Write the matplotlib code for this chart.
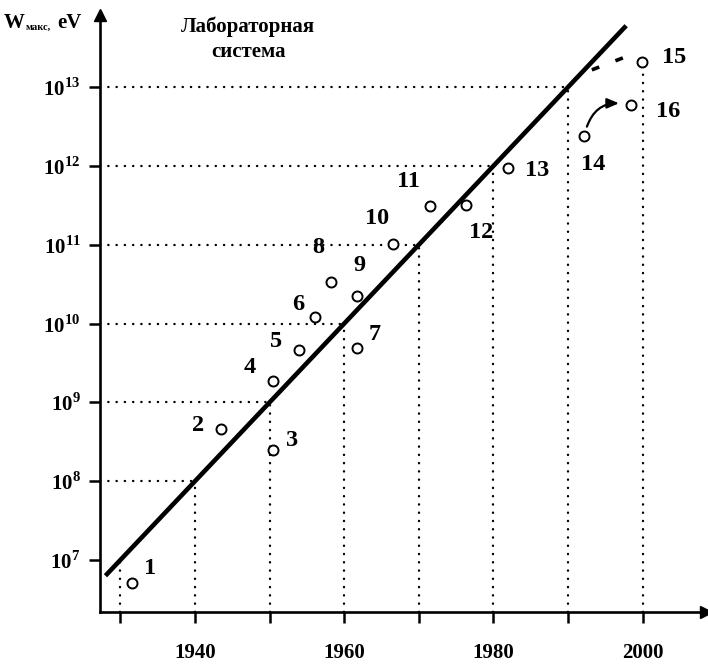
import matplotlib
matplotlib.use("Agg")
import matplotlib.pyplot as plt
from matplotlib.ticker import NullLocator
import numpy as np

plt.rcParams["font.family"] = ["Liberation Serif", "DejaVu Serif"]
plt.rcParams["font.weight"] = "bold"
plt.rcParams["mathtext.fontset"] = "custom"
plt.rcParams["mathtext.rm"] = "Liberation Serif:bold"
plt.rcParams["mathtext.bf"] = "Liberation Serif:bold"

# accelerators 1..16: year and log10 of max energy (eV)
point_ids = [str(i) for i in range(1, 17)]
point_years = [1931.5, 1943.5, 1950.5, 1950.5, 1954.0, 1956.1, 1961.7, 1958.2,
               1961.7, 1966.6, 1971.5, 1976.3, 1981.9, 1992.2, 1999.9, 1998.5]
point_exp = [6.71, 8.66, 8.40, 9.27, 9.67, 10.08, 9.69, 10.53,
             10.35, 11.01, 11.49, 11.50, 11.97, 12.38, 13.32, 12.78]

# Livingston trend line: one decade per ten years
line_years = [1928.0, 1997.8]
line_exp = [6.80, 13.78]

# guide corners on the trend line
guide_years = [1930, 1940, 1950, 1960, 1970, 1980, 1990]
guide_exp = [7, 8, 9, 10, 11, 12, 13]

# dashed extrapolation towards point 15
dash_years = [1993.2, 1997.6]
dash_exp = [13.22, 13.38]

x_ticks = [1930, 1940, 1950, 1960, 1970, 1980, 1990, 2000]
x_tick_labels = ["", "1940", "", "1960", "", "1980", "", "2000"]
y_tick_exp = [7, 8, 9, 10, 11, 12, 13]

# label offsets in pixels (right, up) from each circle
label_dx = [19, -23, 19, -24, -23, -17, 18, -12, 3, -16, -22, 15, 30, 9, 32, 37]
label_dy = [14, 4, 9, 14, 8, 13, 14, 34, 31, 26, 25, -27, -2, -28, 4, -7]

W, H = 708, 667
fig = plt.figure(figsize=(W / 100, H / 100), dpi=100)

x0, x1 = 1927.27, 2008.5
y0, y1 = 6.34, 13.92
px_year, px_dec = 7.46, 78.8
left_px, base_px = 100, 612
ax = fig.add_axes([left_px / W, (H - base_px) / H,
                   (x1 - x0) * px_year / W, (y1 - y0) * px_dec / H])
ax.set_xlim(x0, x1)
ax.set_yscale("log")
ax.set_ylim(10 ** y0, 10 ** y1)

for s in ["top", "right"]:
    ax.spines[s].set_visible(False)
for s in ["left", "bottom"]:
    ax.spines[s].set_linewidth(1.9)
ax.plot(1, 0, ">", color="black", ms=9, transform=ax.transAxes, clip_on=False)
ax.plot(0, 1, "^", color="black", ms=9, transform=ax.transAxes, clip_on=False)

ax.set_xticks(x_ticks)
ax.set_xticklabels(x_tick_labels)
ax.set_yticks([10.0 ** e for e in y_tick_exp])
ax.set_yticklabels([r"$10^{%d}$" % e for e in y_tick_exp])
ax.yaxis.set_minor_locator(NullLocator())
ax.tick_params(axis="both", direction="out", length=8, width=1.8, color="black")
ax.tick_params(axis="x", pad=14, labelsize=15)
ax.tick_params(axis="y", pad=6, labelsize=15)

# dotted guides
dot = dict(color="black", lw=1.7, linestyle=(0, (0.1, 3.4)), dash_capstyle="round", zorder=1)
for yr, e in zip(guide_years, guide_exp):
    ax.plot([yr, yr], [10 ** y0, 10 ** e], **dot)
    if e > 7:
        ax.plot([x0, yr], [10 ** e, 10 ** e], **dot)
ax.plot([2000, 2000], [10 ** y0, 10 ** (point_exp[14] - 0.06)], **dot)

ax.plot(line_years, 10 ** np.array(line_exp), color="black", lw=3.3,
        solid_capstyle="butt", zorder=2)
ax.plot(dash_years, 10 ** np.array(dash_exp), color="black", lw=2.6,
        linestyle=(0, (2.2, 4.8)), zorder=2)

py = 10 ** np.array(point_exp)
ax.plot(point_years, py, "o", ls="none", ms=7.2, mew=1.4, mec="black",
        mfc="white", zorder=3)

for lab, xx, yy, dx, dy in zip(point_ids, point_years, py, label_dx, label_dy):
    ax.annotate(lab, (xx, yy), xytext=(dx, dy), textcoords="offset pixels",
                ha="center", va="center", fontsize=17.5, fontweight="bold")

# curved arrow from point 14 to point 16
ax.annotate("", xy=(point_years[15], py[15]), xytext=(point_years[13], py[13]),
            arrowprops=dict(arrowstyle="-|>,head_length=0.7,head_width=0.3",
                            connectionstyle="arc3,rad=-0.5", color="black",
                            lw=1.6, shrinkA=7, shrinkB=9))

# axis label W_макс, eV
fig.text(4 / W, 1 - 28 / H, "W", fontsize=15, fontweight="bold", va="baseline")
fig.text(26 / W, 1 - 30 / H, "макс,", fontsize=7.5, fontweight="bold", va="baseline")
fig.text(57 / W, 1 - 28 / H, "eV", fontsize=15, fontweight="bold", va="baseline")

fig.text(248 / W, 1 - 32 / H, "Лабораторная", fontsize=15, fontweight="bold",
         ha="center", va="baseline")
fig.text(248 / W, 1 - 57 / H, "система", fontsize=15, fontweight="bold",
         ha="center", va="baseline")

fig.savefig("out.png", dpi=100)
